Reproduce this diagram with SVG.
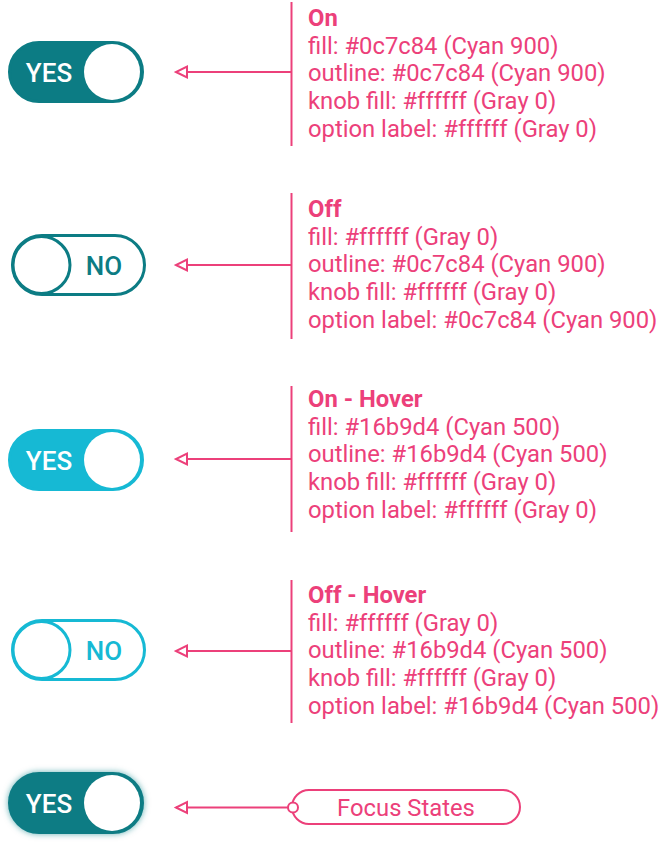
<svg xmlns="http://www.w3.org/2000/svg" width="660" height="844" viewBox="0 0 660 844">
<defs>
<style>
.lbl{font-family:Roboto,"Liberation Sans",sans-serif;font-size:23.8px;fill:#ec407a}
.ttl{font-weight:700}
.tg{font-family:Roboto,"Liberation Sans",sans-serif;font-size:26px;font-weight:500;text-anchor:middle}
.ln{stroke:#ec407a;stroke-width:2;fill:none}
.knob{fill:#ffffff}
</style>
<marker id="ah" markerWidth="16" markerHeight="16" refX="13" refY="8" orient="auto" markerUnits="userSpaceOnUse">
<path d="M13,8 L2,2.5 L2,13.5 Z" fill="#ffffff" stroke="#ec407a" stroke-width="2"/>
</marker>
<filter id="glow2" x="-30%" y="-50%" width="160%" height="200%">
<feGaussianBlur in="SourceAlpha" stdDeviation="3" result="b"/>
<feFlood flood-color="#0c7c84" flood-opacity="0.6" result="c"/>
<feComposite operator="in" in="c" in2="b" result="g"/>
<feMerge><feMergeNode in="g"/><feMergeNode in="SourceGraphic"/></feMerge>
</filter>
</defs>

<g id="toggle-on">
<rect x="9.5" y="42.5" width="133" height="59" rx="29.5" fill="#0c7c84" stroke="#0c7c84" stroke-width="3"/>
<circle class="knob" cx="112" cy="72" r="28"/>
<text class="tg" x="49" y="81.5" fill="#ffffff">YES</text>
</g>

<g id="toggle-off">
<rect x="12.5" y="235.5" width="132" height="59" rx="29.5" fill="#ffffff" stroke="#0c7c84" stroke-width="3"/>
<circle class="knob" cx="41.5" cy="265" r="28.5" stroke="#0c7c84" stroke-width="3"/>
<text class="tg" x="104" y="274.5" fill="#0c7c84">NO</text>
</g>

<g id="toggle-on-hover">
<rect x="9.5" y="430.5" width="133" height="59" rx="29.5" fill="#16b9d4" stroke="#16b9d4" stroke-width="3"/>
<circle class="knob" cx="112" cy="460" r="28"/>
<text class="tg" x="49" y="469.5" fill="#ffffff">YES</text>
</g>

<g id="toggle-off-hover">
<rect x="12.5" y="620.5" width="132" height="59" rx="29.5" fill="#ffffff" stroke="#16b9d4" stroke-width="3"/>
<circle class="knob" cx="41.5" cy="650" r="28.5" stroke="#16b9d4" stroke-width="3"/>
<text class="tg" x="104" y="659.5" fill="#16b9d4">NO</text>
</g>

<g id="toggle-focus">
<rect x="9.5" y="773.5" width="133" height="59" rx="29.5" fill="#0c7c84" stroke="#0c7c84" stroke-width="3" filter="url(#glow2)"/>
<circle class="knob" cx="112" cy="803" r="28"/>
<text class="tg" x="49" y="812.5" fill="#ffffff">YES</text>
</g>

<g id="connectors">
<line class="ln" x1="291.5" y1="2" x2="291.5" y2="146"/>
<line class="ln" x1="291.5" y1="72" x2="176" y2="72" marker-end="url(#ah)"/>
<line class="ln" x1="291.5" y1="193" x2="291.5" y2="339"/>
<line class="ln" x1="291.5" y1="265" x2="176" y2="265" marker-end="url(#ah)"/>
<line class="ln" x1="291.5" y1="386" x2="291.5" y2="532"/>
<line class="ln" x1="291.5" y1="459" x2="176" y2="459" marker-end="url(#ah)"/>
<line class="ln" x1="291.5" y1="580" x2="291.5" y2="723"/>
<line class="ln" x1="291.5" y1="651" x2="176" y2="651" marker-end="url(#ah)"/>
<line class="ln" x1="288" y1="807.5" x2="176" y2="807.5" marker-end="url(#ah)"/>
</g>

<g id="note-on">
<text class="lbl" x="308" y="26"><tspan class="ttl">On</tspan><tspan x="308" dy="27.7">fill: #0c7c84 (Cyan 900)</tspan><tspan x="308" dy="27.7">outline: #0c7c84 (Cyan 900)</tspan><tspan x="308" dy="27.7">knob fill: #ffffff (Gray 0)</tspan><tspan x="308" dy="27.7">option label: #ffffff (Gray 0)</tspan></text>
</g>
<g id="note-off">
<text class="lbl" x="308" y="217"><tspan class="ttl">Off</tspan><tspan x="308" dy="27.7">fill: #ffffff (Gray 0)</tspan><tspan x="308" dy="27.7">outline: #0c7c84 (Cyan 900)</tspan><tspan x="308" dy="27.7">knob fill: #ffffff (Gray 0)</tspan><tspan x="308" dy="27.7">option label: #0c7c84 (Cyan 900)</tspan></text>
</g>
<g id="note-on-hover">
<text class="lbl" x="308" y="407"><tspan class="ttl">On - Hover</tspan><tspan x="308" dy="27.7">fill: #16b9d4 (Cyan 500)</tspan><tspan x="308" dy="27.7">outline: #16b9d4 (Cyan 500)</tspan><tspan x="308" dy="27.7">knob fill: #ffffff (Gray 0)</tspan><tspan x="308" dy="27.7">option label: #ffffff (Gray 0)</tspan></text>
</g>
<g id="note-off-hover">
<text class="lbl" x="308" y="603"><tspan class="ttl">Off - Hover</tspan><tspan x="308" dy="27.7">fill: #ffffff (Gray 0)</tspan><tspan x="308" dy="27.7">outline: #16b9d4 (Cyan 500)</tspan><tspan x="308" dy="27.7">knob fill: #ffffff (Gray 0)</tspan><tspan x="308" dy="27.7">option label: #16b9d4 (Cyan 500)</tspan></text>
</g>

<g id="focus-label">
<rect x="292" y="790" width="228" height="34" rx="17" fill="#ffffff" stroke="#ec407a" stroke-width="2"/>
<circle cx="293" cy="807.5" r="5" fill="#ffffff" stroke="#ec407a" stroke-width="2"/>
<text class="lbl" x="406" y="816" text-anchor="middle">Focus States</text>
</g>
</svg>
